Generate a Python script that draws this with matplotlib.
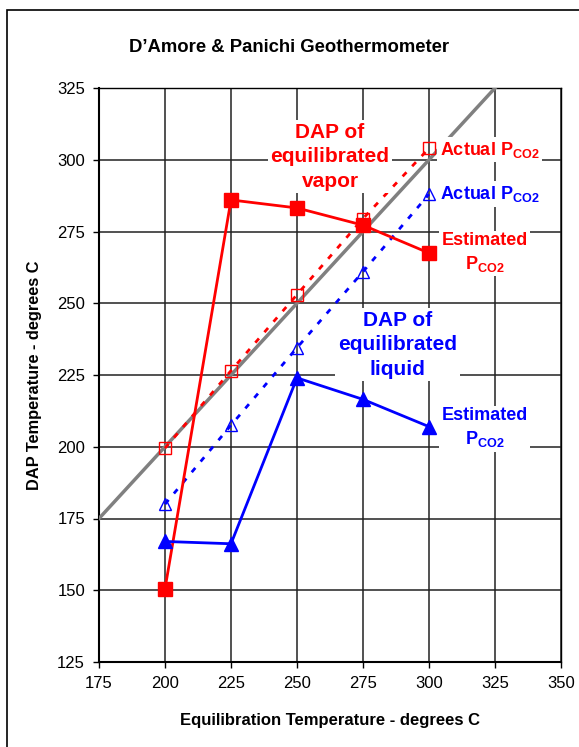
import matplotlib.pyplot as plt
from matplotlib.patches import Rectangle

plt.rcParams['font.family'] = ['Liberation Sans', 'DejaVu Sans']
plt.rcParams['mathtext.fontset'] = 'custom'
plt.rcParams['mathtext.rm'] = 'Liberation Sans'
plt.rcParams['mathtext.bf'] = 'Liberation Sans:bold'

temps = [200, 225, 250, 275, 300]
vapor_est = [150.5, 286, 283.2, 277.2, 267.5]
vapor_act = [199.5, 226.5, 253, 279.5, 304]
liquid_act = [180, 207.5, 234.5, 261, 288]
liquid_est = [167, 166.2, 224, 216.5, 207]
one_to_one = [175, 325]

fig = plt.figure(figsize=(5.79, 7.47), dpi=100)
ax = fig.add_axes([99 / 579, 1 - 662 / 747, 462 / 579, 574 / 747])

# outer chart frame
fig.patches.append(Rectangle((7 / 579, -0.1), 1.2, 1 - 10 / 747 + 0.1,
                             transform=fig.transFigure, fill=False,
                             edgecolor='black', linewidth=1.2))

ax.plot(one_to_one, one_to_one, color='#808080', lw=2.5, zorder=3)
ax.plot(temps, vapor_act, color='red', lw=2, ls=(0, (2, 3)), marker='s',
        ms=9, mfc='none', mec='red', mew=1, zorder=4)
ax.plot(temps, liquid_act, color='blue', lw=2, ls=(0, (2, 3)), marker='^',
        ms=9, mfc='none', mec='blue', mew=1, zorder=4)
ax.plot(temps, vapor_est, color='red', lw=2, marker='s', ms=10, zorder=4)
ax.plot(temps, liquid_est, color='blue', lw=2, marker='^', ms=10, zorder=4)

ax.set_xlim(175, 350)
ax.set_ylim(125, 325)
ax.set_xticks(range(175, 351, 25))
ax.set_yticks(range(125, 326, 25))
ax.grid(True, color='#222222', lw=1.1)
ax.set_axisbelow(True)
for s in ax.spines.values():
    s.set_linewidth(1.5)
ax.spines['top'].set_linewidth(1.0)
ax.spines['right'].set_linewidth(1.0)
ax.tick_params(direction='out', length=4, width=1, labelsize=12, pad=6)

ax.set_xlabel('Equilibration Temperature - degrees C', fontsize=12,
              fontweight='bold', labelpad=16)
ax.set_ylabel('DAP Temperature - degrees C', fontsize=11.8, fontweight='bold',
              labelpad=11)
fig.text(0.5, 1 - 47 / 747, 'D\u2019Amore & Panichi Geothermometer',
         ha='center', va='center', fontsize=13.3, fontweight='bold')

box = dict(facecolor='white', edgecolor='none', pad=2)
pco2 = r'$\mathbf{P}_{\mathbf{CO2}}$'
ax.text(262.5, 301, 'DAP of\nequilibrated\nvapor', color='red', fontsize=15,
        fontweight='bold', ha='center', va='center', linespacing=1.35,
        bbox=box, zorder=6)
ax.text(288, 235.5, 'DAP of\nequilibrated\nliquid', color='blue', fontsize=15,
        fontweight='bold', ha='center', va='center', linespacing=1.35,
        bbox=box, zorder=6)
ax.text(304, 303.5, 'Actual ' + pco2, color='red', fontsize=13,
        fontweight='bold', ha='left', va='center', bbox=box, zorder=6)
ax.text(304, 288, 'Actual ' + pco2, color='blue', fontsize=13,
        fontweight='bold', ha='left', va='center', bbox=box, zorder=6)
ax.text(321, 267.5, 'Estimated\n' + pco2, color='red', fontsize=13,
        fontweight='bold', ha='center', va='center', linespacing=1.3,
        bbox=box, zorder=6)
ax.text(321, 206.5, 'Estimated\n' + pco2, color='blue', fontsize=13,
        fontweight='bold', ha='center', va='center', linespacing=1.3,
        bbox=box, zorder=6)

fig.savefig('out.png', dpi=100)
